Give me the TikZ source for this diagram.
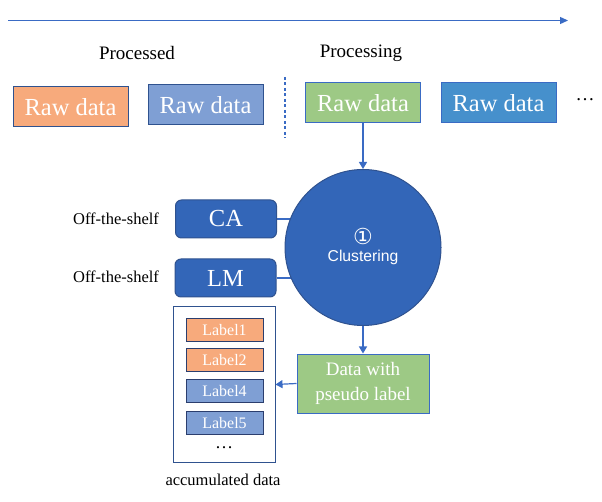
\documentclass[tikz,border=0pt]{standalone}
\usepackage{fontspec}
\setmainfont{Liberation Serif}
\newfontfamily\clsans{Liberation Sans}
\newfontfamily\djv{DejaVu Sans}
\usetikzlibrary{arrows.meta,backgrounds}
\definecolor{cOrange}{HTML}{F7AA7C}
\definecolor{cLBlue}{HTML}{7F9FD4}
\definecolor{cGreen}{HTML}{9DC985}
\definecolor{cMBlue}{HTML}{4690CC}
\definecolor{cDBlue}{HTML}{3366B8}
\definecolor{cBorder}{HTML}{2F528F}
\definecolor{cLine}{HTML}{3A6BC4}
\definecolor{cLabBorder}{HTML}{2B3E6E}
\tikzset{
  rawbox/.style={draw=cBorder, line width=1pt, minimum width=115pt, minimum height=40pt, inner sep=0pt, text=white, font=\fontsize{24.5}{26}\selectfont},
  modbox/.style={draw=cBorder, fill=cDBlue, line width=1pt, rounded corners=6pt, minimum width=101pt, minimum height=38pt, inner sep=0pt, text=white, font=\fontsize{24.5}{26}\selectfont},
  labbox/.style={draw=cLabBorder, line width=1pt, minimum width=77pt, minimum height=23pt, inner sep=0pt, text=white, font=\fontsize{16}{18}\selectfont},
  plain/.style={inner sep=0pt, font=\fontsize{16.5}{18}\selectfont},
  head/.style={inner sep=0pt, font=\fontsize{19}{21}\selectfont},
  conn/.style={draw=cLine, line width=1.2pt, -{Triangle[length=7pt,width=8pt]}},
  link/.style={draw=cLine, line width=1.2pt}
}
\begin{document}
\begin{tikzpicture}[x=1pt,y=-1pt]
\useasboundingbox (0,0) rectangle (602,502);
% timeline arrow
\coordinate (tl0) at (8,20.5);
\coordinate (tl1) at (568,20.5);
\draw[draw=cLine, line width=1.3pt, -{Triangle[length=8pt,width=7pt]}] (tl0) -- (tl1);
% headings
\node[head] (hd1) at (137,53) {Processed};
\node[head] (hd2) at (361,53) {Processing};
% separator
\coordinate (sep0) at (285,77);
\coordinate (sep1) at (285,138);
\draw[draw=cLine, line width=1.2pt, dash pattern=on 3pt off 2.5pt] (sep0) -- (sep1);
% raw data boxes
\node[rawbox, fill=cOrange] (r1) at (70.5,107) {Raw data};
\node[rawbox, fill=cLBlue] (r2) at (205.5,105) {Raw data};
\node[rawbox, fill=cGreen, draw=cLine] (r3) at (363,103) {Raw data};
\node[rawbox, fill=cMBlue, draw=cLine] (r4) at (498.5,103) {Raw data};
\node[plain, font=\fontsize{19}{21}\selectfont] (dots1) at (585,100) {\dots};
% clustering circle
\node[circle, draw=cBorder, fill=cDBlue, line width=1pt, minimum size=156pt, inner sep=0pt] (clus) at (363,247.5) {};
\node[inner sep=0pt, text=white, font=\djv\fontsize{22}{24}\selectfont] (num) at (363,236) {①};
\node[inner sep=0pt, text=white, font=\clsans\fontsize{15.7}{18}\selectfont] (clt) at (363,257.5) {Clustering};
% modules
\node[modbox] (ca) at (226,219) {CA};
\node[modbox] (lm) at (225.5,278) {LM};
\node[plain] (ots1) at (116,219) {Off-the-shelf};
\node[plain] (ots2) at (116,277) {Off-the-shelf};
\begin{pgfonlayer}{background}
\draw[link] (ca.east) -- (ca.east -| clus.center);
\draw[link] (lm.east) -- (lm.east -| clus.center);
\end{pgfonlayer}
% arrows
\draw[conn] (r3.south) -- (clus.north);
% accumulated data
\node[draw=cBorder, fill=white, line width=1pt, minimum width=102pt, minimum height=155pt, inner sep=0pt] (acc) at (224,384.5) {};
\node[labbox, fill=cOrange] (l1) at (224.5,330.5) {Label1};
\node[labbox, fill=cOrange] (l2) at (224.5,360) {Label2};
\node[labbox, fill=cLBlue] (l4) at (224.5,391) {Label4};
\node[labbox, fill=cLBlue] (l5) at (224.5,423) {Label5};
\node[plain, font=\fontsize{18}{20}\selectfont] (dots2) at (224,448) {\dots};
\node[plain] (acclab) at (223,480) {accumulated data};
% pseudo label box
\node[draw=cLine, fill=cGreen, line width=1pt, minimum width=132pt, minimum height=59pt, inner sep=0pt, text=white, align=center, font=\fontsize{19}{25}\selectfont] (pl) at (363,383.5) {Data with\\pseudo label};
\draw[conn] (clus.south) -- (pl.north);
\draw[conn] (pl.west) -- (acc.east);
\end{tikzpicture}
\end{document}
